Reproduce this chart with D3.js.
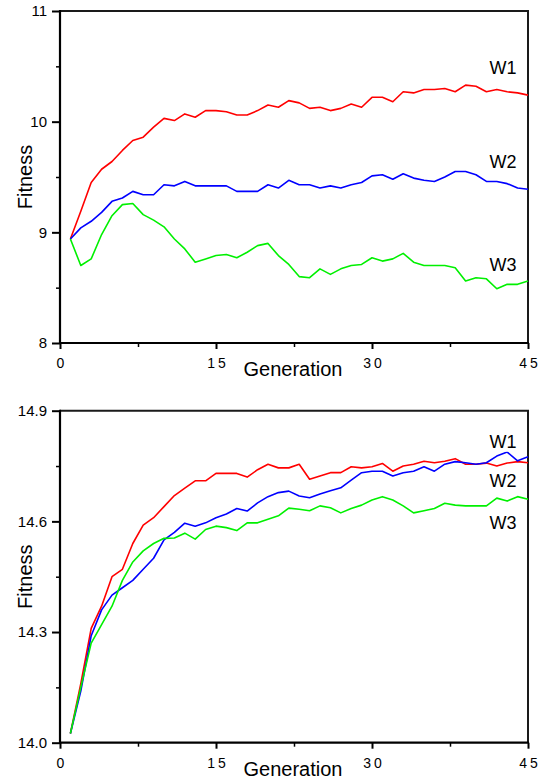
<!DOCTYPE html>
<html>
<head>
<meta charset="utf-8">
<script src="https://cdn.jsdelivr.net/npm/d3@7"></script>
<style>
  body { margin: 0; background: #fff; }
  text { font-family: "Liberation Sans", Arial, sans-serif; fill: #000; }
</style>
</head>
<body>
<svg width="541" height="780"></svg>
<script>
const svg = d3.select("svg");

// generations on the x axis
const generations = [1, 2, 3, 4, 5, 6, 7, 8, 9, 10, 11, 12, 13, 14, 15, 16, 17, 18, 19, 20,
    21, 22, 23, 24, 25, 26, 27, 28, 29, 30, 31, 32, 33, 34, 35, 36, 37, 38, 39, 40,
    41, 42, 43, 44, 45];

const seriesNames = ["W1", "W2", "W3"];
const seriesColors = ["#ff0000", "#0000ff", "#00f000"];

// top panel
const w1Top = [8.94, 9.19, 9.45, 9.57, 9.64, 9.74, 9.83, 9.86, 9.95, 10.03, 10.01, 10.07, 10.04, 10.10, 10.10,
    10.09, 10.06, 10.06, 10.10, 10.15, 10.13, 10.19, 10.17, 10.12, 10.13, 10.10, 10.12, 10.16, 10.13, 10.22,
    10.22, 10.18, 10.27, 10.26, 10.29, 10.29, 10.30, 10.27, 10.33, 10.32, 10.27, 10.29, 10.27, 10.26, 10.24];
const w2Top = [8.94, 9.04, 9.10, 9.18, 9.28, 9.31, 9.37, 9.34, 9.34, 9.43, 9.42, 9.46, 9.42, 9.42, 9.42,
    9.42, 9.37, 9.37, 9.37, 9.43, 9.40, 9.47, 9.43, 9.43, 9.40, 9.42, 9.40, 9.43, 9.45, 9.51,
    9.52, 9.48, 9.53, 9.49, 9.47, 9.46, 9.50, 9.55, 9.55, 9.52, 9.46, 9.46, 9.44, 9.40, 9.39];
const w3Top = [8.94, 8.70, 8.76, 8.98, 9.15, 9.25, 9.26, 9.16, 9.11, 9.05, 8.94, 8.85, 8.73, 8.76, 8.79,
    8.80, 8.77, 8.82, 8.88, 8.90, 8.79, 8.71, 8.60, 8.59, 8.67, 8.62, 8.67, 8.70, 8.71, 8.77,
    8.74, 8.76, 8.81, 8.73, 8.70, 8.70, 8.70, 8.68, 8.56, 8.59, 8.58, 8.49, 8.53, 8.53, 8.56];
const topTicks = [8, 9, 10, 11];
const topMinor = [8.5, 9.5, 10.5];

// bottom panel
const w1Bot = [14.025, 14.16, 14.31, 14.37, 14.45, 14.47, 14.54, 14.59, 14.61, 14.64, 14.67, 14.69, 14.71, 14.71, 14.73,
    14.73, 14.73, 14.72, 14.74, 14.755, 14.745, 14.745, 14.755, 14.714, 14.723, 14.732, 14.732, 14.748, 14.745, 14.748,
    14.757, 14.736, 14.750, 14.755, 14.763, 14.759, 14.763, 14.770, 14.755, 14.755, 14.758, 14.750, 14.758, 14.762, 14.759];
const w2Bot = [14.025, 14.14, 14.29, 14.36, 14.40, 14.42, 14.44, 14.47, 14.50, 14.55, 14.57, 14.595, 14.587, 14.596, 14.61,
    14.62, 14.635, 14.628, 14.65, 14.667, 14.678, 14.682, 14.669, 14.664, 14.674, 14.683, 14.691, 14.712, 14.732, 14.736,
    14.736, 14.723, 14.732, 14.736, 14.748, 14.736, 14.755, 14.762, 14.759, 14.755, 14.759, 14.777, 14.788, 14.764, 14.775];
const w3Bot = [14.025, 14.15, 14.27, 14.32, 14.37, 14.44, 14.49, 14.52, 14.54, 14.554, 14.555, 14.568, 14.552, 14.578, 14.587,
    14.583, 14.575, 14.596, 14.596, 14.606, 14.615, 14.636, 14.633, 14.629, 14.642, 14.637, 14.623, 14.635, 14.644, 14.658,
    14.667, 14.658, 14.642, 14.623, 14.629, 14.635, 14.649, 14.644, 14.642, 14.642, 14.642, 14.663, 14.655, 14.667, 14.66];
const botTicks = [14.0, 14.3, 14.6, 14.9];
const botMinor = [14.15, 14.45, 14.75];

const xTicks = [0, 15, 30, 45];
const xMinor = [7.5, 22.5, 37.5];

const render = (opts) => {
    const { top, series, yDomain, yTicks, yMinor, yFormat, labelY } = opts;
    const margin = { left: 60, right: 13 };
    const innerWidth = 541 - margin.left - margin.right;
    const innerHeight = 332;

    const xScale = d3.scaleLinear().domain([0, 45]).range([0, innerWidth]);
    const yScale = d3.scaleLinear().domain(yDomain).range([innerHeight, 0]);

    const g = svg.append("g")
        .attr("transform", `translate(${margin.left}, ${top})`);

    // frame top + right
    g.append("path")
        .attr("d", `M0,0H${innerWidth}V${innerHeight}`)
        .attr("fill", "none")
        .attr("stroke", "#1a1a1a")
        .attr("stroke-width", 2);

    // lines
    const line = d3.line()
        .x((d, i) => xScale(generations[i]))
        .y(d => yScale(d));

    series.forEach((values, k) => {
        g.append("path")
            .datum(values)
            .attr("d", line)
            .attr("fill", "none")
            .attr("stroke", seriesColors[k])
            .attr("stroke-width", 1.6)
            .attr("stroke-linejoin", "round");
    });

    // series labels with white box behind
    seriesNames.forEach((name, k) => {
        const t = g.append("text")
            .attr("x", innerWidth - 25)
            .attr("y", labelY[k])
            .attr("text-anchor", "middle")
            .attr("dominant-baseline", "central")
            .attr("font-size", 18)
            .text(name);
        const bb = t.node().getBBox();
        g.insert("rect", () => t.node())
            .attr("x", bb.x - 1).attr("y", bb.y + 2)
            .attr("width", bb.width + 2).attr("height", bb.height - 2)
            .attr("fill", "#fff");
    });

    // y axis
    g.append("g").call(d3.axisLeft(yScale).tickValues(yMinor).tickSize(4).tickFormat(""))
        .call(a => a.select(".domain").remove())
        .selectAll("line").attr("stroke-width", 1.5);
    const yAxis = g.append("g").call(d3.axisLeft(yScale).tickValues(yTicks).tickSize(8)
        .tickPadding(5).tickFormat(d3.format(yFormat)));
    yAxis.select(".domain").attr("stroke-width", 2.2).attr("d", `M0,${innerHeight + 1}V-1`);
    yAxis.selectAll("line").attr("stroke-width", 2);
    yAxis.selectAll("text").attr("font-size", 15).attr("font-family", "Liberation Sans, Arial, sans-serif");

    // x axis
    const xg = g.append("g").attr("transform", `translate(0, ${innerHeight})`);
    xg.append("g").call(d3.axisBottom(xScale).tickValues(xMinor).tickSize(4).tickFormat(""))
        .call(a => a.select(".domain").remove())
        .selectAll("line").attr("stroke-width", 1.5);
    const xAxis = xg.append("g").call(d3.axisBottom(xScale).tickValues(xTicks).tickSize(6)
        .tickPadding(9).tickFormat(d3.format("d")));
    xAxis.select(".domain").attr("stroke-width", 2.2).attr("d", `M-1,0H${innerWidth + 1}`);
    xAxis.selectAll("line").attr("stroke-width", 2);
    xAxis.selectAll("text")
        .attr("font-size", 14)
        .attr("letter-spacing", 3)
        .attr("dx", 1.5)
        .attr("font-family", "Liberation Sans, Arial, sans-serif");

    // axis titles
    g.append("text")
        .attr("x", innerWidth / 2 - 1)
        .attr("y", innerHeight + 33)
        .attr("text-anchor", "middle")
        .attr("font-size", 20)
        .text("Generation");
    g.append("text")
        .attr("transform", `translate(-28, ${innerHeight / 2}) rotate(-90)`)
        .attr("text-anchor", "middle")
        .attr("font-size", 20)
        .text("Fitness");
};

render({
    top: 11,
    series: [w1Top, w2Top, w3Top],
    yDomain: [8, 11],
    yTicks: topTicks,
    yMinor: topMinor,
    yFormat: "d",
    labelY: [57, 151, 254]
});

render({
    top: 410.7,
    series: [w1Bot, w2Bot, w3Bot],
    yDomain: [14.0, 14.9],
    yTicks: botTicks,
    yMinor: botMinor,
    yFormat: ".1f",
    labelY: [31, 70, 112]
});
</script>
</body>
</html>
